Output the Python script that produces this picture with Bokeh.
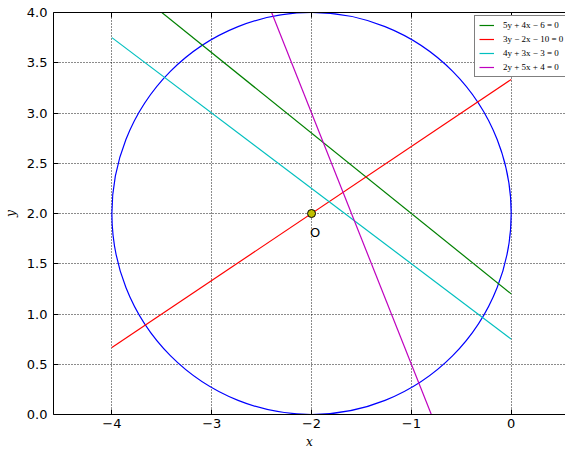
from bokeh.plotting import figure
from bokeh.models import Range1d, LinearAxis, FixedTicker, Legend, LegendItem, NumeralTickFormatter
from bokeh.core.properties import value
from bokeh.embed import file_html
from bokeh.resources import INLINE

# Circle data
circle_center_x = [-2.0]
circle_center_y = [2.0]
circle_radius = 2.0

# Lines: a*y + b*x + c = 0
line_labels = ["5y + 4x − 6 = 0", "3y − 2x − 10 = 0", "4y + 3x − 3 = 0", "2y + 5x + 4 = 0"]
line_a = [5, 3, 4, 2]
line_b = [4, -2, 3, 5]
line_c = [-6, -10, -3, 4]
line_colors = ["#008000", "#ff0000", "#00bfbf", "#bf00bf"]
line_x = [-4.0, 0.0]

# Point O
point_x = [-2.0]
point_y = [2.0]
label_x = [-2.015]
label_y = [1.81]
label_text = ["O"]

x_ticks = [-4, -3, -2, -1, 0]
x_tick_labels = {-4: "−4", -3: "−3", -2: "−2", -1: "−1", 0: "0"}
y_ticks = [0.0, 0.5, 1.0, 1.5, 2.0, 2.5, 3.0, 3.5, 4.0]

p = figure(width=565, height=451, output_backend="svg", toolbar_location=None,
           x_range=Range1d(-4.585, 0.544), y_range=Range1d(0, 4),
           x_axis_location=None, y_axis_location=None,
           min_border_top=12, min_border_left=49, min_border_right=0, min_border_bottom=37)
p.outline_line_color = None
p.background_fill_color = "white"
p.border_fill_color = "white"

tick_font = "13px"

xaxis = LinearAxis(ticker=FixedTicker(ticks=x_ticks), major_label_overrides=x_tick_labels)
yaxis = LinearAxis(ticker=FixedTicker(ticks=y_ticks))
yaxis.formatter = NumeralTickFormatter(format="0.0")
top_axis = LinearAxis(ticker=FixedTicker(ticks=x_ticks),
                      major_label_overrides={t: "" for t in x_ticks},
                      major_label_text_font_size="1px", major_label_standoff=0)

for ax in (xaxis, yaxis, top_axis):
    ax.major_tick_in = 5
    ax.major_tick_out = 0
    ax.minor_tick_in = 0
    ax.minor_tick_out = 0
    ax.axis_line_color = "black"
    ax.axis_line_width = 1
    ax.major_tick_line_color = "black"

for ax in (xaxis, yaxis):
    ax.major_label_text_font = "DejaVu Sans"
    ax.major_label_text_font_size = tick_font
    ax.major_label_text_color = "black"
    ax.axis_label_text_font = "DejaVu Serif"
    ax.axis_label_text_font_style = "italic"
    ax.axis_label_text_font_size = "12px"
    ax.axis_label_text_color = "black"

xaxis.axis_label = "x"
xaxis.major_label_standoff = 4
xaxis.axis_label_standoff = 4
yaxis.axis_label = "y"
yaxis.major_label_standoff = 6
yaxis.axis_label_standoff = 6

p.add_layout(xaxis, "below")
p.add_layout(yaxis, "left")
p.add_layout(top_axis, "above")

p.xgrid.ticker = FixedTicker(ticks=x_ticks)
p.ygrid.ticker = FixedTicker(ticks=y_ticks)
for g in (p.xgrid, p.ygrid):
    g.grid_line_color = "black"
    g.grid_line_dash = "1 2"
    g.grid_line_width = 1
    g.grid_line_alpha = 0.9

# circle
p.ellipse(x=circle_center_x, y=circle_center_y, width=2 * circle_radius, height=2 * circle_radius,
          fill_color=None, line_color="#0000ff", line_width=1.2)

items = []
for lab, a, b, c, col in zip(line_labels, line_a, line_b, line_c, line_colors):
    ys = [-(b * xv + c) / a for xv in line_x]
    r = p.line(line_x, ys, line_color=col, line_width=1.2)
    items.append(LegendItem(label=lab, renderers=[r]))

p.scatter(point_x, point_y, size=8, fill_color="#bfbf00", line_color="black", line_width=1)
p.text(label_x, label_y, text=label_text, text_font=value("DejaVu Sans"), text_font_size="13px",
       text_baseline="alphabetic", text_align="left", text_color="black")

legend = Legend(items=items, location=(421, 337), margin=0, padding=4, spacing=4,
                glyph_width=15, glyph_height=10, label_height=10, label_standoff=9,
                label_text_font="Liberation Serif", label_text_font_size="9px",
                label_text_color="black",
                border_line_color="black", border_line_width=1,
                background_fill_color="white", background_fill_alpha=1)
p.add_layout(legend, "center")

open("out.html", "w").write(file_html(p, INLINE))
